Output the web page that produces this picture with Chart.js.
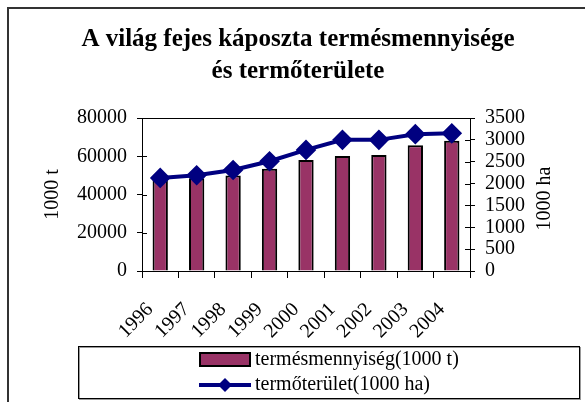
<!DOCTYPE html>
<html>
<head>
<meta charset="utf-8">
<script src="https://cdn.jsdelivr.net/npm/chart.js@4.4.1/dist/chart.umd.min.js"></script>
<style>
  body { margin: 0; background: #fff; }
</style>
</head>
<body>
<canvas id="cabbageChart" width="585" height="402"></canvas>
<script>
const years = ["1996", "1997", "1998", "1999", "2000", "2001", "2002", "2003", "2004"];
const harvest = [48000, 48500, 50000, 53400, 58000, 60100, 60600, 65800, 68100];
const area = [2130, 2190, 2310, 2510, 2770, 3000, 3000, 3130, 3150];
const harvestTicks = [0, 20000, 40000, 60000, 80000];
const areaTicks = [0, 500, 1000, 1500, 2000, 2500, 3000, 3500];
const titleLines = ["A világ fejes káposzta termésmennyisége", "és termőterülete"];
const harvestLabel = "termésmennyiség(1000 t)";
const areaLabel = "termőterület(1000 ha)";

const serif = "'Liberation Serif', 'Times New Roman', serif";
const plum = "#993366";
const navy = "#000080";

// title, frame, axis titles, legend box and inner tick halves
const decorations = {
  id: "decorations",
  afterDraw(chart) {
    const ctx = chart.ctx;
    const a = chart.chartArea;
    ctx.save();

    // outer frame (runs off the right/bottom edge)
    ctx.strokeStyle = "#333";
    ctx.lineWidth = 2;
    ctx.strokeRect(8, 8, 700, 500);

    ctx.fillStyle = "#000";
    ctx.textAlign = "center";
    ctx.textBaseline = "alphabetic";
    ctx.font = "bold 25px " + serif;
    ctx.fillText(titleLines[0], 298, 46);
    ctx.fillText(titleLines[1], 298, 78);

    // top line of plot
    ctx.strokeStyle = "#000";
    ctx.lineWidth = 1;
    ctx.beginPath();
    ctx.moveTo(a.left, Math.round(a.top) + 0.5);
    ctx.lineTo(a.right, Math.round(a.top) + 0.5);
    ctx.stroke();

    // tick halves inside the plot
    const yl = chart.scales.y;
    const yr = chart.scales.y2;
    ctx.beginPath();
    yl.ticks.forEach((t) => {
      const p = Math.round(yl.getPixelForValue(t.value)) + 0.5;
      ctx.moveTo(a.left, p); ctx.lineTo(a.left + 5, p);
    });
    yr.ticks.forEach((t) => {
      const p = Math.round(yr.getPixelForValue(t.value)) + 0.5;
      ctx.moveTo(a.right, p); ctx.lineTo(a.right - 5, p);
    });
    ctx.stroke();

    // axis titles
    ctx.font = "20px " + serif;
    ctx.textBaseline = "middle";
    const mid = (a.top + a.bottom) / 2;
    ctx.save();
    ctx.translate(53, mid);
    ctx.rotate(-Math.PI / 2);
    ctx.fillText("1000 t", 0, 0);
    ctx.restore();
    ctx.save();
    ctx.translate(545, mid + 4);
    ctx.rotate(-Math.PI / 2);
    ctx.fillText("1000 ha", 0, 0);
    ctx.restore();

    // legend
    ctx.strokeStyle = "#999";
    ctx.lineWidth = 1;
    ctx.strokeRect(79.5, 347.5, 501, 52);
    ctx.strokeStyle = "#000";
    ctx.strokeRect(78.5, 346.5, 501, 52);

    ctx.fillStyle = plum;
    ctx.fillRect(200, 353, 50, 13);
    ctx.lineWidth = 2;
    ctx.strokeRect(200, 353, 50, 13);

    ctx.strokeStyle = navy;
    ctx.lineWidth = 4;
    ctx.beginPath();
    ctx.moveTo(199, 385);
    ctx.lineTo(251, 385);
    ctx.stroke();
    ctx.fillStyle = navy;
    ctx.beginPath();
    ctx.moveTo(225, 378); ctx.lineTo(232, 385); ctx.lineTo(225, 392); ctx.lineTo(218, 385);
    ctx.closePath();
    ctx.fill();

    ctx.fillStyle = "#000";
    ctx.textAlign = "left";
    ctx.fillText(harvestLabel, 255, 360);
    ctx.fillText(areaLabel, 255, 385);

    ctx.restore();
  }
};

const tickFont = { family: serif, size: 20 };
const plainNumber = (v) => String(v);

new Chart(document.getElementById("cabbageChart"), {
  type: "bar",
  data: {
    labels: years,
    datasets: [
      {
        type: "line",
        label: areaLabel,
        data: area,
        yAxisID: "y2",
        borderColor: navy,
        backgroundColor: navy,
        borderWidth: 4,
        pointStyle: "rectRot",
        pointRadius: 7.5,
        pointHoverRadius: 7.5,
        tension: 0,
        order: 0
      },
      {
        label: harvestLabel,
        data: harvest,
        yAxisID: "y",
        backgroundColor: plum,
        borderColor: "#000",
        borderWidth: 2,
        barPercentage: 0.42,
        categoryPercentage: 1,
        order: 1
      }
    ]
  },
  options: {
    responsive: false,
    animation: false,
    layout: { padding: { top: 118, left: 38, right: 25, bottom: 61 } },
    plugins: {
      legend: { display: false },
      title: { display: false },
      tooltip: { enabled: false }
    },
    scales: {
      x: {
        grid: { offset: true, drawOnChartArea: false, color: "#000", tickLength: 7 },
        border: { color: "#000" },
        ticks: {
          color: "#000",
          font: tickFont,
          minRotation: 45,
          maxRotation: 45,
          autoSkip: false,
          labelOffset: -10,
          padding: 20
        },
        afterFit(scale) { scale.height = 70; }
      },
      y: {
        position: "left",
        min: 0,
        max: 80000,
        afterBuildTicks(scale) { scale.ticks = harvestTicks.map((v) => ({ value: v })); },
        grid: { drawOnChartArea: false, color: "#000", tickLength: 5 },
        border: { color: "#000" },
        ticks: { color: "#000", font: tickFont, padding: 10, autoSkip: false, callback: plainNumber },
        afterFit(scale) { scale.width = 104; }
      },
      y2: {
        position: "right",
        min: 0,
        max: 3500,
        afterBuildTicks(scale) { scale.ticks = areaTicks.map((v) => ({ value: v })); },
        grid: { drawOnChartArea: false, color: "#000", tickLength: 5 },
        border: { color: "#000" },
        ticks: { color: "#000", font: tickFont, padding: 10, autoSkip: false, callback: plainNumber },
        afterFit(scale) { scale.width = 90; }
      }
    }
  },
  plugins: [decorations]
});
</script>
</body>
</html>
